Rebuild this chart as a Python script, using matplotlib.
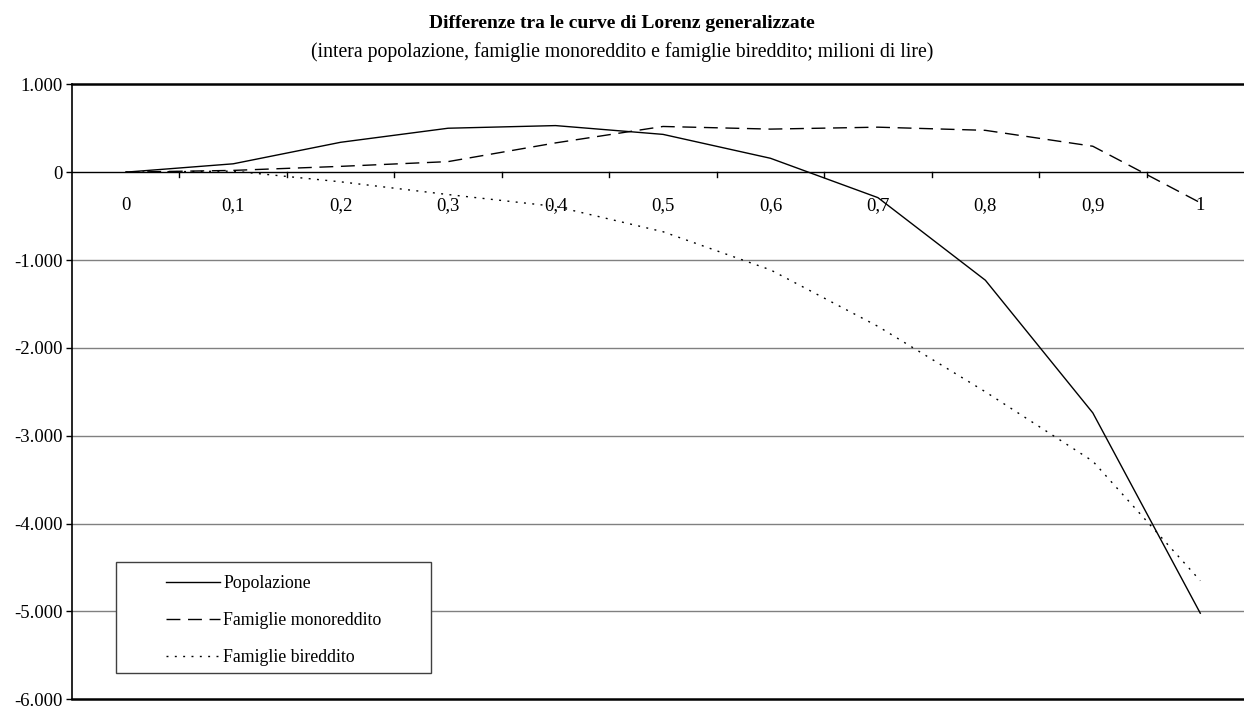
import matplotlib.pyplot as plt
from matplotlib.patches import Rectangle
from matplotlib.ticker import FuncFormatter

# dati (milioni di lire)
decili = ['0', '0,1', '0,2', '0,3', '0,4', '0,5', '0,6', '0,7', '0,8', '0,9', '1']
popolazione = [0, 95, 340, 500, 530, 430, 158, -290, -1230, -2740, -5020]
monoreddito = [0, 20, 66, 120, 333, 520, 490, 512, 476, 295, -348]
bireddito = [0, 12, -110, -255, -390, -678, -1112, -1755, -2500, -3290, -4650]
y_ticks = [1000, 0, -1000, -2000, -3000, -4000, -5000, -6000]

plt.rcParams['font.family'] = ['Liberation Serif', 'DejaVu Serif']

fig = plt.figure(figsize=(12.44, 7.11), dpi=100)
ax = fig.add_axes([72 / 1244, 1 - 699.3 / 711, (1254 - 72) / 1244, (699.3 - 84.3) / 711])

x = list(range(len(decili)))
l1, = ax.plot(x, popolazione, color='black', lw=1.0, label='Popolazione', zorder=3)
l2, = ax.plot(x, monoreddito, color='black', lw=1.0, dashes=(10, 5.5),
              label='Famiglie monoreddito', zorder=3)
l3, = ax.plot(x, bireddito, color='black', lw=1.0, dashes=(1.4, 4.6),
              label='Famiglie bireddito', zorder=3)

ax.set_xlim(-0.5, len(decili) - 0.5)
ax.set_ylim(-6000, 1000)

# griglia orizzontale
for v in y_ticks[2:-1]:
    ax.axhline(v, color='#808080', lw=1.0, zorder=1)
ax.axhline(0, color='black', lw=1.0, zorder=2)

# assi
ax.spines['right'].set_visible(False)
ax.spines['top'].set_linewidth(1.8)
ax.spines['bottom'].set_linewidth(1.8)
ax.spines['left'].set_linewidth(1.2)

ax.set_yticks(y_ticks)
ax.yaxis.set_major_formatter(FuncFormatter(lambda v, p: f'{int(v):,}'.replace(',', '.')))
ax.tick_params(axis='y', direction='out', length=4, width=1, pad=3, labelsize=13.5)

# tick dell'asse x ai confini delle categorie, etichette al centro
ax.set_xticks([])
for i in range(len(decili) - 1):
    ax.plot([i + 0.5, i + 0.5], [0, -60], color='black', lw=1.0, zorder=2)
for i, lab in enumerate(decili):
    ax.text(i, -380, lab, ha='center', va='center', fontsize=13.5, zorder=2)

# legenda
box = Rectangle((116 / 1244, 1 - 672.7 / 711), (431 - 116) / 1244, (672.7 - 562) / 711,
                transform=fig.transFigure, facecolor='white', edgecolor='#404040',
                lw=1.0, zorder=4)
fig.patches.append(box)
leg = fig.legend(handles=[l1, l2, l3], loc='upper left',
                 bbox_to_anchor=(152 / 1244, 1 - 561 / 711), frameon=False,
                 fontsize=12.8, handlelength=3.0, handletextpad=0.2,
                 labelspacing=1.12, borderpad=0.3)
leg.set_zorder(5)

fig.text(0.5, 1 - 23 / 711, 'Differenze tra le curve di Lorenz generalizzate',
         ha='center', va='center', fontsize=14, fontweight='bold')
fig.text(0.5, 1 - 52 / 711,
         '(intera popolazione, famiglie monoreddito e famiglie bireddito; milioni di lire)',
         ha='center', va='center', fontsize=14.2)

fig.savefig('out.png', dpi=100)
